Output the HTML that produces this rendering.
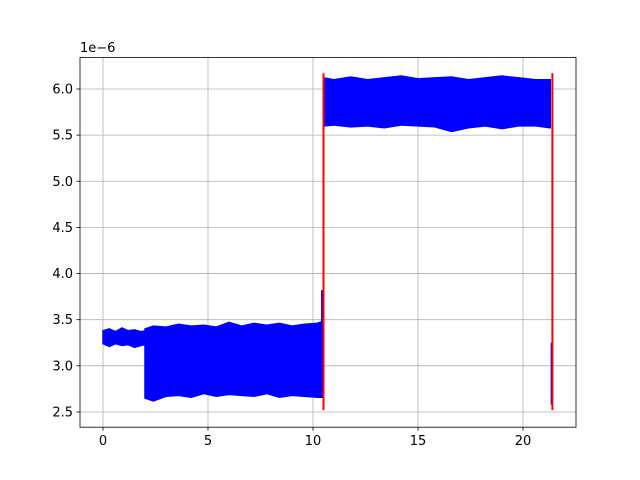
<!DOCTYPE html>
<html><head><meta charset="utf-8"><style>
body{margin:0;background:#fff;}
svg{display:block;font-family:"DejaVu Sans","Liberation Sans",sans-serif;}
</style></head><body>
<svg id="chart" width="640" height="480" viewBox="0 0 640 480" xmlns="http://www.w3.org/2000/svg">
<rect x="0" y="0" width="640" height="480" fill="#fff"/>
<g id="grid"></g>
<g id="plot"></g>
<rect x="80" y="57.6" width="496" height="369.6" fill="none" stroke="#000" stroke-width="0.8"/>
<g id="ticks"></g>
<text x="80" y="52" font-size="13">1e−6</text>
</svg>
<script>
const xTicks=[0,5,10,15,20];
const yTicks=[2.5,3.0,3.5,4.0,4.5,5.0,5.5,6.0];
const yTickLabels=["2.5","3.0","3.5","4.0","4.5","5.0","5.5","6.0"];
// blue band envelopes (units 1e-6)
const band1X=[0,0.3,0.6,0.9,1.2,1.5,1.8,2.0];
const band1Hi=[3.38,3.40,3.37,3.41,3.38,3.39,3.37,3.38];
const band1Lo=[3.24,3.21,3.24,3.22,3.23,3.20,3.22,3.23];
const band2X=[2.0,2.4,3,3.6,4.2,4.8,5.4,6,6.6,7.2,7.8,8.4,9,9.6,10.2,10.45];
const band2Hi=[3.40,3.43,3.42,3.45,3.43,3.44,3.42,3.47,3.43,3.46,3.44,3.46,3.43,3.45,3.46,3.48];
const band2Lo=[2.65,2.62,2.67,2.68,2.66,2.70,2.67,2.69,2.68,2.67,2.70,2.66,2.68,2.67,2.66,2.66];
const band3X=[10.5,11,11.8,12.6,13.4,14.2,15,15.8,16.6,17.4,18.2,19,19.8,20.6,21.3];
const band3Hi=[6.12,6.10,6.13,6.10,6.12,6.14,6.11,6.12,6.13,6.10,6.12,6.14,6.12,6.10,6.10];
const band3Lo=[5.60,5.61,5.59,5.60,5.58,5.61,5.60,5.59,5.54,5.58,5.60,5.57,5.60,5.60,5.58];
const spikeX=[10.42,21.35];
const spikeLo=[2.66,2.58];
const spikeHi=[3.82,3.25];
const redX=[10.5,21.4];
const redLo=[2.52,2.52];
const redHi=[6.17,6.17];

const X0=80,X1=576,Y0=427.2,Y1=57.6,xmin=-1.095,xmax=22.524,ymin=2.335,ymax=6.340;
const sx=v=>X0+(v-xmin)/(xmax-xmin)*(X1-X0);
const sy=v=>Y0-(v-ymin)/(ymax-ymin)*(Y0-Y1);
const NS="http://www.w3.org/2000/svg";
function mk(tag,attrs,parent){const e=document.createElementNS(NS,tag);for(const k in attrs)e.setAttribute(k,attrs[k]);parent.appendChild(e);return e;}
const grid=document.getElementById('grid'),plot=document.getElementById('plot'),ticks=document.getElementById('ticks');
xTicks.forEach(t=>{
  const g=mk('line',{x1:sx(t),x2:sx(t),y1:Y1,y2:Y0,stroke:'#b0b0b0','stroke-width':0.8},grid);
  
  
  const tk=mk('line',{x1:sx(t),x2:sx(t),y1:Y0,y2:Y0+3.5,stroke:'#000','stroke-width':0.8},ticks);
  
  
  const tx=mk('text',{x:sx(t),y:Y0+18,'font-size':13,'text-anchor':'middle'},ticks);
  tx.textContent=String(t);
  
  
});
yTicks.forEach((t,i)=>{
  const g=mk('line',{x1:X0,x2:X1,y1:sy(t),y2:sy(t),stroke:'#b0b0b0','stroke-width':0.8},grid);
  
  
  const tk=mk('line',{x1:X0-3.5,x2:X0,y1:sy(t),y2:sy(t),stroke:'#000','stroke-width':0.8},ticks);
  
  
  const tx=mk('text',{x:X0-7,y:sy(t)+4.5,'font-size':13,'text-anchor':'end'},ticks);
  tx.textContent=yTickLabels[i];
  
  
});
function band(xs,hi,lo,name){
  let pts=xs.map((x,i)=>sx(x)+','+sy(hi[i]));
  for(let i=xs.length-1;i>=0;i--)pts.push(sx(xs[i])+','+sy(lo[i]));
  const p=mk('polygon',{points:pts.join(' '),fill:'#0000ff',stroke:'#0000ff','stroke-width':1.5,'stroke-linejoin':'miter'},plot);
  
  
}
band(band1X,band1Hi,band1Lo,'signal-band-initial');
band(band2X,band2Hi,band2Lo,'signal-band-low');
band(band3X,band3Hi,band3Lo,'signal-band-high');
spikeX.forEach((x,i)=>{
  const l=mk('line',{x1:sx(x),x2:sx(x),y1:sy(spikeLo[i]),y2:sy(spikeHi[i]),stroke:'#0000ff','stroke-width':1.5},plot);
  
  
});
redX.forEach((x,i)=>{
  const l=mk('line',{x1:sx(x),x2:sx(x),y1:sy(redLo[i]),y2:sy(redHi[i]),stroke:'#ff0000','stroke-width':2},plot);
  
  
});
</script>
</body></html>
